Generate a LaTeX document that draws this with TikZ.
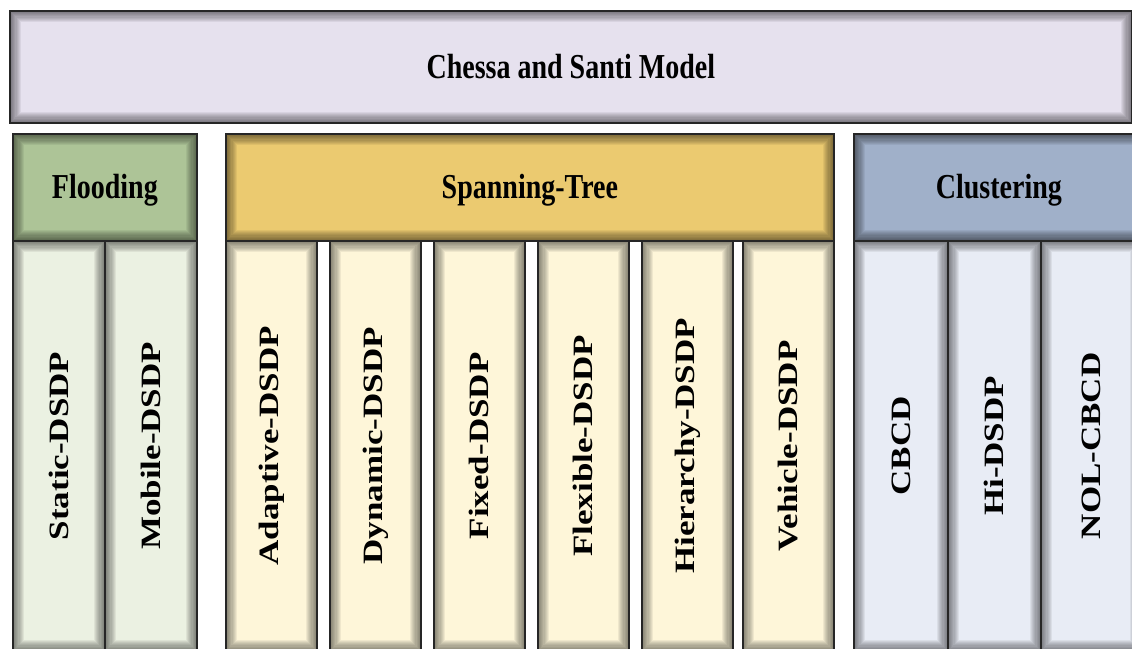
\documentclass[tikz,border=0pt]{standalone}
\usepackage{fontspec}
\setmainfont{Liberation Serif}
\usepackage{graphicx}

\definecolor{topfill}{HTML}{E6E1EE}
\definecolor{floodhead}{HTML}{ADC497}
\definecolor{floodcol}{HTML}{EBF1E2}
\definecolor{spanhead}{HTML}{EBCA70}
\definecolor{spancol}{HTML}{FEF6D9}
\definecolor{clusthead}{HTML}{A0B0C9}
\definecolor{clustcol}{HTML}{E8ECF5}

\tikzset{
  % filled panel with a soft inner shadow along its edges
  panel/.style={
    draw=black!85, line width=1.8pt, inner sep=0pt, anchor=north west,
    fill=#1,
    font=\bfseries\fontsize{35}{40}\selectfont,
    path picture={
      \foreach \k in {1,...,10}{
        \draw[black, opacity=0.06, line width=\k*2.2pt]
          (path picture bounding box.south west) rectangle
          (path picture bounding box.north east);
      }
    }
  },
  headbox/.style={panel=#1, minimum height=107pt, text height=23pt, text depth=0pt},
  colbox/.style={panel=#1, minimum height=410pt},
}

% horizontal and vertical labels, set slightly condensed
\newcommand{\htext}[1]{\scalebox{0.8}[1]{#1}}
\newcommand{\vtext}[1]{\rotatebox{90}{\scalebox{1}[0.8]{#1}}}

\begin{document}
\begin{tikzpicture}[x=1pt, y=-1pt]
  \useasboundingbox (0,0) rectangle (1132,648);
  \clip (0,0) rectangle (1132,648);

  % model box
  \node[headbox=topfill, minimum width=1122pt, minimum height=112pt] (model) at (9,10)
    {\htext{Chessa and Santi Model}};

  % category headers
  \node[headbox=floodhead, minimum width=184pt] (flooding) at (12,133) {\htext{Flooding}};
  \node[headbox=spanhead, minimum width=608pt] (spanning) at (225,133) {\htext{Spanning-Tree}};
  \node[headbox=clusthead, minimum width=290pt] (clustering) at (853,133) {\htext{Clustering}};

  % flooding protocols
  \node[colbox=floodcol, minimum width=92pt] (static) at (12,240) {\vtext{Static-DSDP}};
  \node[colbox=floodcol, minimum width=92pt] (mobile) at (104,240) {\vtext{Mobile-DSDP}};

  % spanning-tree protocols
  \node[colbox=spancol, minimum width=91pt] (adaptive) at (225,240) {\vtext{Adaptive-DSDP}};
  \node[colbox=spancol, minimum width=91pt] (dynamic) at (329,240) {\vtext{Dynamic-DSDP}};
  \node[colbox=spancol, minimum width=91pt] (fixed) at (433,240) {\vtext{Fixed-DSDP}};
  \node[colbox=spancol, minimum width=91pt] (flexible) at (537,240) {\vtext{Flexible-DSDP}};
  \node[colbox=spancol, minimum width=91pt] (hierarchy) at (641,240) {\vtext{Hierarchy-DSDP}};
  \node[colbox=spancol, minimum width=91pt] (vehicle) at (742,240) {\vtext{Vehicle-DSDP}};

  % clustering protocols
  \node[colbox=clustcol, minimum width=94pt] (cbcd) at (853,240) {\vtext{CBCD}};
  \node[colbox=clustcol, minimum width=93pt] (hidsdp) at (947,240) {\vtext{Hi-DSDP}};
  \node[colbox=clustcol, minimum width=100pt] (nolcbcd) at (1040,240) {\vtext{NOL-CBCD}};
\end{tikzpicture}
\end{document}
